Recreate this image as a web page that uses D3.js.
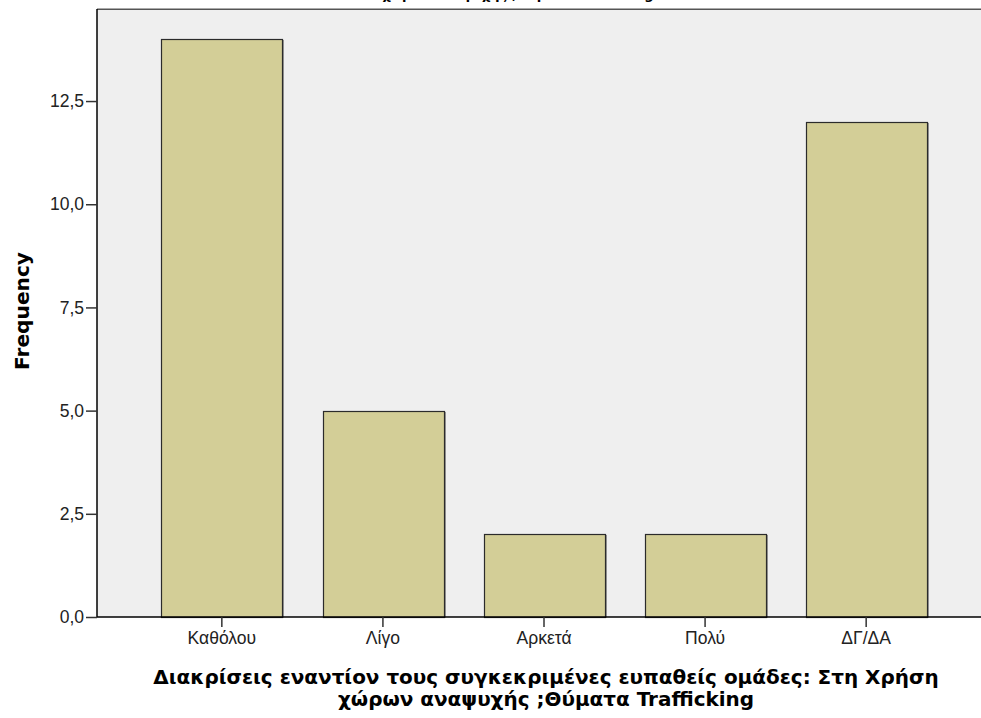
<!DOCTYPE html>
<html>
<head>
<meta charset="utf-8">
<script src="https://cdn.jsdelivr.net/npm/d3@7"></script>
<style>
  html, body { margin: 0; padding: 0; background: #fff; }
  svg { display: block; }
</style>
</head>
<body>
<svg id="chart" width="981" height="718"></svg>
<script>
const categories = ["Καθόλου", "Λίγο", "Αρκετά", "Πολύ", "ΔΓ/ΔΑ"];
const values = [14, 5, 2, 2, 12];
const yTicks = [0, 2.5, 5, 7.5, 10, 12.5];
const yTitle = "Frequency";
const xTitleLines = ["Διακρίσεις εναντίον τους συγκεκριμένες ευπαθείς ομάδες: Στη Χρήση", "χώρων αναψυχής ;Θύματα Trafficking"];
const chartTitle = "χώρων αναψυχής ;Θύματα Trafficking";

const svg = d3.select("#chart");
const tickFont = "'Liberation Sans', Arial, sans-serif";
const boldFont = "'DejaVu Sans', Verdana, sans-serif";
const plot = { left: 97, top: 9, right: 991, bottom: 617 };

// helper: font size so that a text reaches a given width
function fitSize(text, family, weight, targetWidth) {
  const t = svg.append("text").attr("font-family", family).attr("font-weight", weight)
    .attr("font-size", 20).text(text);
  const w = t.node().getComputedTextLength();
  t.remove();
  return 20 * targetWidth / w;
}

const tickSize = (fitSize("Καθόλου", tickFont, "normal", 69) + fitSize("12,5", tickFont, "normal", 34)) / 2;
const xTitleSize = fitSize(xTitleLines[0], boldFont, "bold", 786);
const yTitleSize = fitSize(yTitle, boldFont, "bold", 118);

const x = d3.scaleBand().domain(categories).range([plot.left, plot.right])
  .paddingInner(0.25).paddingOuter(0.4);
const y = d3.scaleLinear().domain([0, 14.73]).range([plot.bottom, plot.top]);

// chart title (cut off at top, as in the reference)
svg.append("text").attr("x", 518).attr("y", -1).attr("text-anchor", "middle")
  .attr("font-family", boldFont).attr("font-weight", "bold").attr("font-size", 13)
  .attr("fill", "#000").text(chartTitle);

// plot background
svg.append("rect").attr("x", plot.left).attr("y", plot.top)
  .attr("width", plot.right - plot.left).attr("height", plot.bottom - plot.top)
  .attr("fill", "#efefef");
svg.append("line").attr("x1", plot.left).attr("x2", plot.right)
  .attr("y1", plot.top + 0.5).attr("y2", plot.top + 0.5)
  .attr("stroke", "#555").attr("stroke-width", 1);
svg.append("line").attr("x1", plot.left).attr("x2", plot.right)
  .attr("y1", plot.top - 0.5).attr("y2", plot.top - 0.5)
  .attr("stroke", "#aaa").attr("stroke-width", 1);

// bar shadows
svg.append("g").selectAll("rect").data(values).join("rect")
  .attr("x", (d, i) => Math.round(x(categories[i])) + 1.5)
  .attr("y", d => Math.round(y(d)) + 1.5)
  .attr("width", Math.round(x.bandwidth()))
  .attr("height", d => plot.bottom - Math.round(y(d)) - 1.5)
  .attr("fill", "none").attr("stroke", "#999").attr("stroke-width", 1);

// bars
svg.append("g").selectAll("rect").data(values).join("rect")
  .attr("x", (d, i) => Math.round(x(categories[i])) + 0.5)
  .attr("y", d => Math.round(y(d)) + 0.5)
  .attr("width", Math.round(x.bandwidth()))
  .attr("height", d => plot.bottom - Math.round(y(d)))
  .attr("fill", "#d3ce97").attr("stroke", "#2b2b2b").attr("stroke-width", 1.2);

// y axis
const yAxis = d3.axisLeft(y).tickValues(yTicks).tickSize(11).tickPadding(2)
  .tickFormat(d => d3.format(".1f")(d).replace(".", ","));
const gy = svg.append("g").attr("transform", `translate(${plot.left},0)`).call(yAxis);
gy.select(".domain").attr("stroke", "#000").attr("stroke-width", 1.5)
  .attr("d", `M0,${plot.top}V${plot.bottom}`);
gy.selectAll(".tick line").attr("stroke", "#333").attr("stroke-width", 1.5);
gy.selectAll(".tick text").attr("font-family", tickFont).attr("font-size", tickSize).attr("fill", "#222");

// x axis
const xAxis = d3.axisBottom(x).tickSize(10).tickPadding(5).tickSizeOuter(0);
const gx = svg.append("g").attr("transform", `translate(0,${plot.bottom})`).call(xAxis);
gx.select(".domain").attr("stroke", "#000").attr("stroke-width", 1.5)
  .attr("d", `M${plot.left},0H${plot.right}`);
gx.selectAll(".tick line").attr("stroke", "#333").attr("stroke-width", 1.5);
gx.selectAll(".tick text").attr("font-family", tickFont).attr("font-size", tickSize).attr("fill", "#222");

// y title
svg.append("text").attr("transform", "translate(29,311) rotate(-90)")
  .attr("text-anchor", "middle").attr("font-family", boldFont).attr("font-weight", "bold")
  .attr("font-size", yTitleSize).attr("fill", "#000").text(yTitle);

// x title
svg.append("g").selectAll("text").data(xTitleLines).join("text")
  .attr("x", 546).attr("y", (d, i) => 684 + i * 22)
  .attr("text-anchor", "middle").attr("font-family", boldFont).attr("font-weight", "bold")
  .attr("font-size", xTitleSize).attr("fill", "#000").text(d => d);
</script>
</body>
</html>
